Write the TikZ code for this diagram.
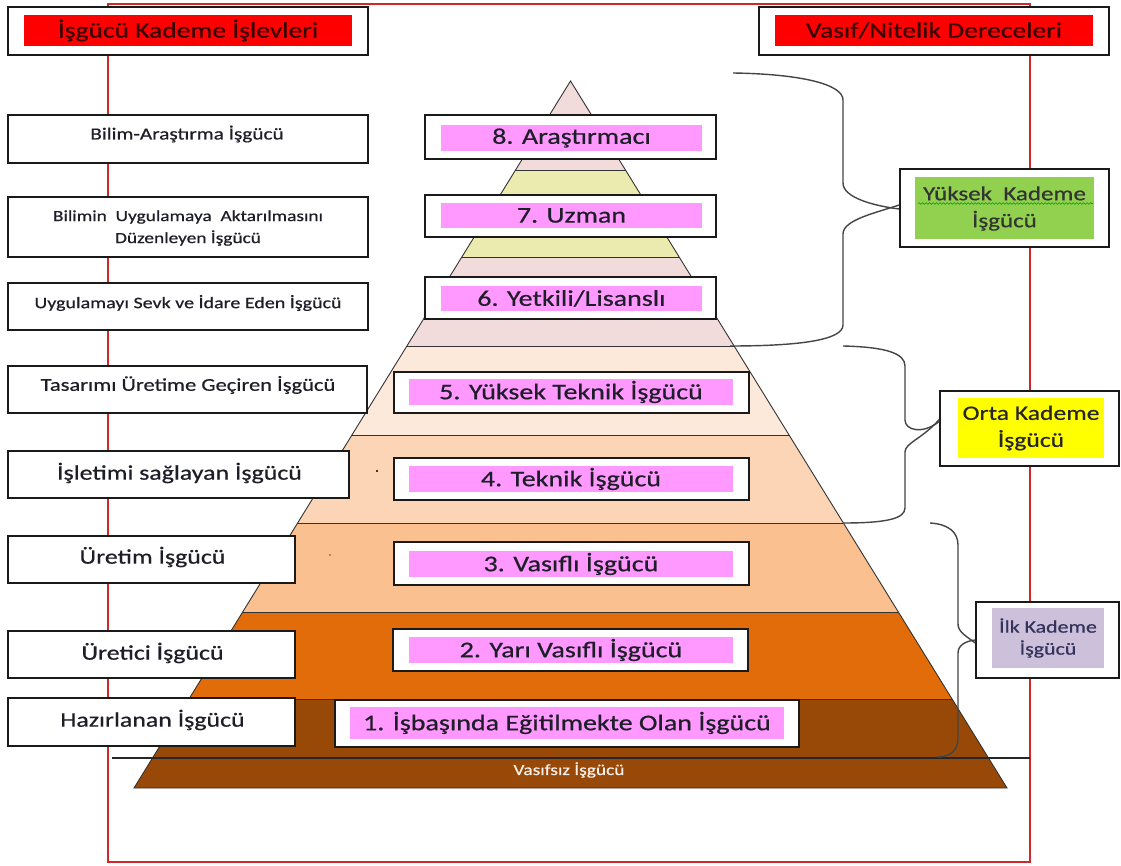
\documentclass[tikz,border=0pt]{standalone}
\usepackage{fontspec}
\setmainfont{Carlito}[FakeStretch=1.25,FakeBold=0.6]
\usetikzlibrary{decorations.pathmorphing}
\definecolor{bandA}{HTML}{F2DCDB}
\definecolor{bandB}{HTML}{EBEBAF}
\definecolor{bandC}{HTML}{FDE9D9}
\definecolor{bandD}{HTML}{FBD5B5}
\definecolor{bandE}{HTML}{FAC090}
\definecolor{bandF}{HTML}{E36C0A}
\definecolor{bandG}{HTML}{984807}
\definecolor{pinkfill}{HTML}{FF99FF}
\definecolor{greenfill}{HTML}{92D050}
\definecolor{yellowfill}{HTML}{FFFF00}
\definecolor{lavfill}{HTML}{CCC0DA}
\definecolor{framered}{HTML}{D02828}
\definecolor{titletext}{HTML}{3A0000}
\definecolor{boxline}{HTML}{1A1A1A}
\definecolor{txt}{HTML}{1E1E28}
\definecolor{bracecol}{HTML}{454545}
\tikzset{
  obox/.style={draw=boxline, line width=1.5pt, fill=white, inner sep=0pt},
  fillbox/.style={inner sep=0pt, text=txt, align=center},
  lbox/.style={obox, align=center, text=txt},
  bracepath/.style={draw=bracecol, line width=1.4pt},
  bandline/.style={draw=black!80, line width=0.9pt},
}
\newcommand\fsz[2]{\fontsize{#1}{#2}\selectfont}
\begin{document}
\begin{tikzpicture}[x=1pt,y=-1pt]
\useasboundingbox (0,0) rectangle (1121,866);
\fill[white] (0,0) rectangle (1121,866);
% red frame
\draw[framered, line width=1.5pt] (108,4) rectangle (1030,862);
% pyramid
\coordinate (apex) at (570.5,81);
\coordinate (bl) at (134,788);
\coordinate (br) at (1007,788);
\begin{scope}
\clip (apex) -- (br) -- (bl) -- cycle;
\fill[bandA] (0,60) rectangle (1121,170);
\fill[bandB] (0,170) rectangle (1121,257);
\fill[bandA] (0,257) rectangle (1121,346);
\fill[bandC] (0,346) rectangle (1121,435);
\fill[bandD] (0,435) rectangle (1121,523);
\fill[bandE] (0,523) rectangle (1121,612);
\fill[bandF] (0,612) rectangle (1121,699);
\fill[bandG] (0,699) rectangle (1121,790);
\foreach \yy in {170,257,346,435,523,612,699}
  \draw[bandline] (0,\yy) -- (1121,\yy);
\end{scope}
\draw[bandline] (apex) -- (br) -- (bl) -- cycle;
\fill[black] (377,471) circle (1.1);
\fill[black!70] (330,555) circle (0.9);
% horizontal base line
\coordinate (hl) at (112,758);
\coordinate (hr) at (1030,758);
\draw[black!85, line width=1.3pt] (hl) -- (hr);
\node[text=white!92!bandG, font=\fsz{15.5}{18}] (vas) at (569,770) {Vasıfsız İşgücü};

% titles
\node[obox, minimum width=360, minimum height=48] (tl) at (188,31) {};
\node[fillbox, fill=red, text=titletext, minimum width=328, minimum height=31, font=\fsz{22}{26}] (tlt) at (188,30.5) {İşgücü Kademe İşlevleri};
\node[obox, minimum width=350, minimum height=48] (tr) at (934,31) {};
\node[fillbox, fill=red, text=titletext, minimum width=318, minimum height=31, font=\fsz{22}{26}] (trt) at (934,30.5) {Vasıf/Nitelik Dereceleri};

% left boxes
\node[obox, minimum width=360, minimum height=48] (l1) at (188,139) {};
\node[text=txt, font=\fsz{17}{20}] at (187,134) {Bilim-Araştırma İşgücü};
\node[obox, minimum width=360, minimum height=60] (l2) at (188,227) {};
\node[text=txt, align=center, font=\fsz{15.5}{22}] at (188,228) {Bilimin~ Uygulamaya~ Aktarılmasını\\Düzenleyen İşgücü};
\node[obox, minimum width=360, minimum height=47] (l3) at (188,306.5) {};
\node[text=txt, font=\fsz{16}{20}] at (188,303) {Uygulamayı Sevk ve İdare Eden İşgücü};
\node[obox, minimum width=359, minimum height=47] (l4) at (187.5,389.5) {};
\node[text=txt, font=\fsz{18}{20}] at (188,385) {Tasarımı Üretime Geçiren İşgücü};
\node[obox, minimum width=341, minimum height=47] (l5) at (178.5,474.5) {};
\node[text=txt, font=\fsz{20.7}{24}] at (179.5,473) {İşletimi sağlayan İşgücü};
\node[obox, minimum width=287, minimum height=47] (l6) at (151.5,559.5) {};
\node[text=txt, font=\fsz{20.7}{24}] at (152.5,557) {Üretim İşgücü};
\node[obox, minimum width=287, minimum height=47] (l7) at (151.5,654.5) {};
\node[text=txt, font=\fsz{20.7}{24}] at (152.5,653) {Üretici İşgücü};
\node[obox, minimum width=287, minimum height=48] (l8) at (151.5,722) {};
\node[text=txt, font=\fsz{20.7}{24}] at (152.5,720) {Hazırlanan İşgücü};

% center boxes
\node[obox, minimum width=291, minimum height=44] (c8) at (570.5,137) {};
\node[fillbox, fill=pinkfill, minimum width=261, minimum height=26, font=\fsz{22.4}{26}] at (571.5,138) {8. Araştırmacı};
\node[obox, minimum width=291, minimum height=42] (c7) at (570.5,216) {};
\node[fillbox, fill=pinkfill, minimum width=261, minimum height=25, font=\fsz{22.4}{26}] at (571.5,215.5) {7. Uzman};
\node[obox, minimum width=291, minimum height=42] (c6) at (570.5,298) {};
\node[fillbox, fill=pinkfill, minimum width=261, minimum height=25, font=\fsz{22.4}{26}] at (571.5,298.5) {6. Yetkili/Lisanslı};
\node[obox, minimum width=355, minimum height=41] (c5) at (571.5,392.5) {};
\node[fillbox, fill=pinkfill, minimum width=324, minimum height=26, font=\fsz{22.4}{26}] at (571,392) {5. Yüksek Teknik İşgücü};
\node[obox, minimum width=355, minimum height=42] (c4) at (571.5,479) {};
\node[fillbox, fill=pinkfill, minimum width=324, minimum height=26, font=\fsz{22.4}{26}] at (571,479) {4. Teknik İşgücü};
\node[obox, minimum width=355, minimum height=43] (c3) at (571.5,563.5) {};
\node[fillbox, fill=pinkfill, minimum width=324, minimum height=26, font=\fsz{22.4}{26}] at (571,564) {3. Vasıflı İşgücü};
\node[obox, minimum width=355, minimum height=42] (c2) at (570.5,650) {};
\node[fillbox, fill=pinkfill, minimum width=324, minimum height=26, font=\fsz{22.4}{26}] at (571,650) {2. Yarı Vasıflı İşgücü};
\node[obox, minimum width=464, minimum height=47] (c1) at (567,723.5) {};
\node[fillbox, fill=pinkfill, minimum width=434, minimum height=32, font=\fsz{22.4}{26}] at (567,723) {1. İşbaşında Eğitilmekte Olan İşgücü};

% right boxes
\node[obox, minimum width=209, minimum height=78] (rh) at (1004.5,208) {};
\node[fillbox, fill=greenfill, text=black!80, minimum width=179, minimum height=62, font=\fsz{20}{27}] (rht) at (1004.5,208.5) {Yüksek~ Kademe\\İşgücü};
\draw[green!60!black, line width=0.6pt, decorate, decoration={snake, amplitude=0.8pt, segment length=3.5pt}] (918,203.5) -- (1093,203.5);
\node[obox, minimum width=179, minimum height=75] (ro) at (1029.5,428.5) {};
\node[fillbox, fill=yellowfill, text=black!85, minimum width=146, minimum height=60, font=\fsz{20.5}{27}] at (1031,428) {Orta Kademe\\İşgücü};
\node[obox, minimum width=143, minimum height=76] (ri) at (1047.5,640) {};
\node[fillbox, fill=lavfill, text=blue!20!black!80, minimum width=112, minimum height=60, font=\fsz{17.5}{22}] at (1048,638) {İlk Kademe\\İşgücü};

% braces
\coordinate (ha) at (733,73);
\coordinate (hb) at (730,346);
\draw[bracepath] (ha) .. controls (800,74) and (843,84) .. (843,100) -- (843,183)
  .. controls (843,198) and (875,206) .. ([yshift=-1pt]rh.west);
\draw[bracepath] ([yshift=3pt]rh.west) .. controls (875,213) and (843,220) .. (843,234) -- (843,325)
  .. controls (843,340) and (800,346) .. (hb);
\coordinate (oa) at (843,346);
\coordinate (ob) at (843,523);
\draw[bracepath] (oa) .. controls (885,347) and (905,353) .. (905,366) -- (905,420)
  .. controls (905,430) and (922,435) .. ([yshift=7pt]ro.west);
\draw[bracepath] ([yshift=9pt]ro.west) .. controls (922,439) and (905,443) .. (905,452) -- (905,508)
  .. controls (905,519) and (885,523) .. (ob);
\coordinate (ia) at (930,523);
\coordinate (ib) at (937,757);
\draw[bracepath] (ia) .. controls (948,524) and (958,532) .. (958,545) -- (958,624)
  .. controls (958,632) and (966,636) .. ([yshift=-3pt]ri.west);
\draw[bracepath] ([yshift=0pt]ri.west) .. controls (966,641) and (958,645) .. (958,653) -- (958,738)
  .. controls (958,751) and (950,757) .. (ib);
\end{tikzpicture}
\end{document}
